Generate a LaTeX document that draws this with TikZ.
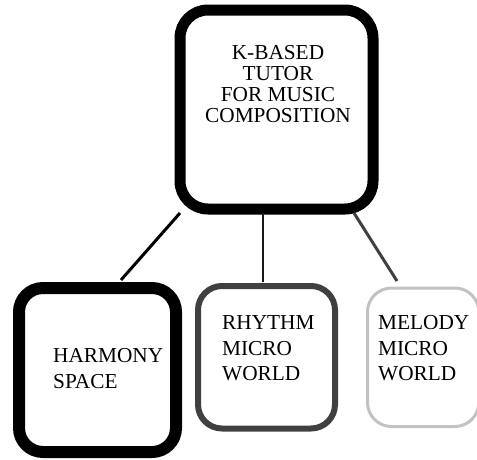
\documentclass[tikz,border=0pt]{standalone}
\usepackage{fontspec}
\setmainfont{Liberation Serif}
\usetikzlibrary{calc}
\begin{document}
\begin{tikzpicture}[x=1pt,y=1pt,
  box/.style={draw,rounded corners=24pt,inner sep=0pt,fill=none},
  lbl/.style={inner sep=0pt,font=\fontsize{21.3}{25.5}\selectfont},
  conn/.style={line width=3pt}]
\useasboundingbox (0,0) rectangle (477,-459);
\node[box,line width=11pt,minimum width=193pt,minimum height=199pt,rounded corners=28pt] (top) at (276.5,-109.5) {};
\node[box,line width=12pt,minimum width=157pt,minimum height=164pt] (harm) at (97.5,-370) {};
\node[box,line width=6pt,draw=black!75,minimum width=137pt,minimum height=142.5pt] (rhy) at (266.5,-357.25) {};
\node[box,line width=3pt,draw=black!24,minimum width=111.3pt,minimum height=138.5pt] (mel) at (423.15,-357.25) {};
\node[lbl,font=\fontsize{21.3}{21}\selectfont,align=center,anchor=base] (ttop) at (278,-122.5) {K-BASED\\TUTOR\\FOR MUSIC\\COMPOSITION};
\node[lbl,align=left,anchor=base west] (tharm) at (53,-388) {HARMONY\\SPACE};
\node[lbl,align=left,anchor=base west] (trhy) at (222,-380.5) {RHYTHM\\MICRO\\WORLD};
\node[lbl,align=left,anchor=base west] (tmel) at (378,-380.5) {MELODY\\MICRO\\WORLD};
\draw[conn] ([xshift=5.5pt,yshift=1.5pt]top.south west) -- ([xshift=23.5pt,yshift=2pt]harm.north);
\draw[conn,line width=2.6pt,draw=black!90] ([xshift=-13.5pt,yshift=2pt]top.south) -- ([xshift=-3.5pt,yshift=1pt]rhy.north);
\draw[conn,draw=black!75] ([xshift=-24.5pt,yshift=1.5pt]top.south east) -- ([xshift=-26.15pt,yshift=5.5pt]mel.north);
\end{tikzpicture}
\end{document}
